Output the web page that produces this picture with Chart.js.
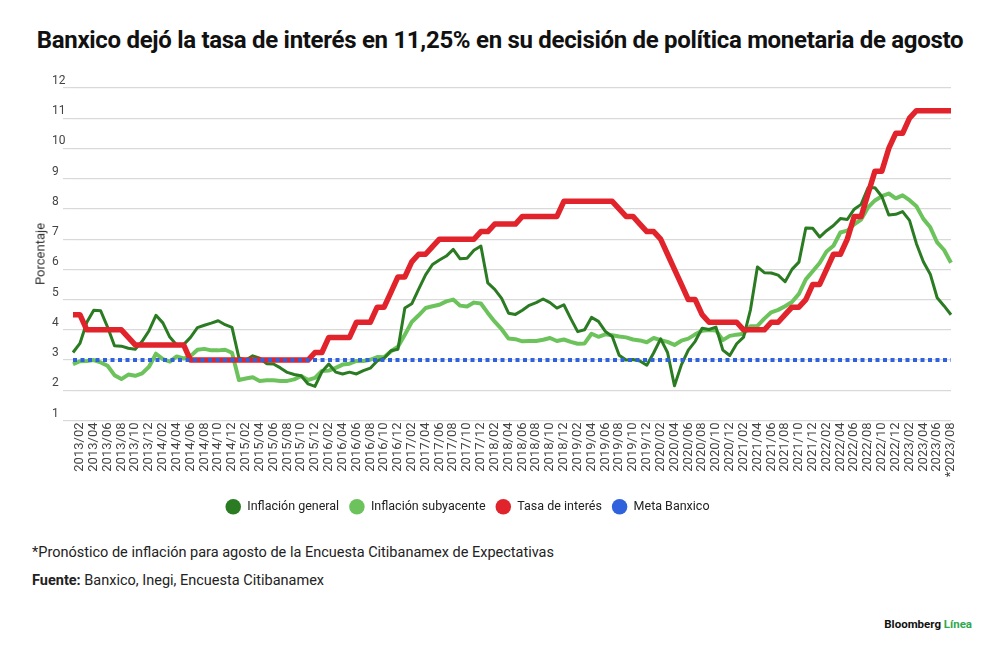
<!DOCTYPE html>
<html lang="es">
<head>
<meta charset="utf-8">
<title>Banxico - tasa de interés e inflación</title>
<script src="https://cdn.jsdelivr.net/npm/chart.js@4.4.1/dist/chart.umd.min.js"></script>
<style>
  html, body { margin: 0; padding: 0; background: #fff; }
  body { width: 1000px; height: 652px; position: relative; overflow: hidden; font-family: Roboto, "Noto Sans", sans-serif; color: #222; }
  #title { position: absolute; left: 0; top: 25px; width: 1000px; text-align: center; font-weight: 700; font-size: 24px; letter-spacing: -0.3px; color: #111; line-height: 30px; }
  #chartBox { position: absolute; left: 0; top: 0; width: 1000px; height: 523px; }
  #yTitle { position: absolute; left: 40px; top: 254px; transform: translate(-50%, -50%) rotate(-90deg); font-size: 13px; color: #333; white-space: nowrap; }
  .note { position: absolute; left: 32px; font-size: 14.5px; color: #222; white-space: nowrap; }
  #note1 { top: 544px; }
  #note2 { top: 572px; }
  #brand { position: absolute; right: 28px; top: 617px; font-size: 11.5px; font-weight: 700; color: #111; }
  #brand span { color: #2fa84f; }
</style>
</head>
<body>
<div id="title">Banxico dejó la tasa de interés en 11,25% en su decisión de política monetaria de agosto</div>
<div id="chartBox"><canvas id="rateChart"></canvas></div>
<div id="yTitle">Porcentaje</div>
<div class="note" id="note1">*Pronóstico de inflación para agosto de la Encuesta Citibanamex de Expectativas</div>
<div class="note" id="note2"><b>Fuente:</b> Banxico, Inegi, Encuesta Citibanamex</div>
<div id="brand">Bloomberg <span>Línea</span></div>

<script>
// meses 2013/01 - 2023/08 (el último es pronóstico)
const categories = [
  "2013/01", "2013/02", "2013/03", "2013/04", "2013/05", "2013/06", "2013/07", "2013/08", "2013/09", "2013/10", "2013/11", "2013/12",
  "2014/01", "2014/02", "2014/03", "2014/04", "2014/05", "2014/06", "2014/07", "2014/08", "2014/09", "2014/10", "2014/11", "2014/12",
  "2015/01", "2015/02", "2015/03", "2015/04", "2015/05", "2015/06", "2015/07", "2015/08", "2015/09", "2015/10", "2015/11", "2015/12",
  "2016/01", "2016/02", "2016/03", "2016/04", "2016/05", "2016/06", "2016/07", "2016/08", "2016/09", "2016/10", "2016/11", "2016/12",
  "2017/01", "2017/02", "2017/03", "2017/04", "2017/05", "2017/06", "2017/07", "2017/08", "2017/09", "2017/10", "2017/11", "2017/12",
  "2018/01", "2018/02", "2018/03", "2018/04", "2018/05", "2018/06", "2018/07", "2018/08", "2018/09", "2018/10", "2018/11", "2018/12",
  "2019/01", "2019/02", "2019/03", "2019/04", "2019/05", "2019/06", "2019/07", "2019/08", "2019/09", "2019/10", "2019/11", "2019/12",
  "2020/01", "2020/02", "2020/03", "2020/04", "2020/05", "2020/06", "2020/07", "2020/08", "2020/09", "2020/10", "2020/11", "2020/12",
  "2021/01", "2021/02", "2021/03", "2021/04", "2021/05", "2021/06", "2021/07", "2021/08", "2021/09", "2021/10", "2021/11", "2021/12",
  "2022/01", "2022/02", "2022/03", "2022/04", "2022/05", "2022/06", "2022/07", "2022/08", "2022/09", "2022/10", "2022/11", "2022/12",
  "2023/01", "2023/02", "2023/03", "2023/04", "2023/05", "2023/06", "2023/07", "*2023/08"
];

const inflacionGeneral = [
  3.25, 3.55, 4.25, 4.65, 4.63, 4.09, 3.47, 3.46, 3.39, 3.36, 3.62, 3.97,
  4.48, 4.23, 3.76, 3.50, 3.51, 3.75, 4.07, 4.15, 4.22, 4.30, 4.17, 4.08,
  3.07, 3.00, 3.14, 3.06, 2.88, 2.87, 2.74, 2.59, 2.52, 2.48, 2.21, 2.13,
  2.61, 2.87, 2.60, 2.54, 2.60, 2.54, 2.65, 2.73, 2.97, 3.06, 3.31, 3.36,
  4.72, 4.86, 5.35, 5.82, 6.16, 6.31, 6.44, 6.66, 6.35, 6.37, 6.63, 6.77,
  5.55, 5.34, 5.04, 4.55, 4.51, 4.65, 4.81, 4.90, 5.02, 4.90, 4.72, 4.83,
  4.37, 3.94, 4.00, 4.41, 4.28, 3.95, 3.78, 3.16, 3.00, 3.02, 2.97, 2.83,
  3.24, 3.70, 3.25, 2.15, 2.84, 3.33, 3.62, 4.05, 4.01, 4.09, 3.33, 3.15,
  3.54, 3.76, 4.67, 6.08, 5.89, 5.88, 5.81, 5.59, 6.00, 6.24, 7.37, 7.36,
  7.07, 7.28, 7.45, 7.68, 7.65, 7.99, 8.15, 8.70, 8.70, 8.41, 7.80, 7.82,
  7.91, 7.62, 6.85, 6.25, 5.84, 5.06, 4.79, 4.50
];

const inflacionSubyacente = [
  2.86, 2.96, 2.97, 3.00, 2.92, 2.81, 2.50, 2.37, 2.52, 2.48, 2.56, 2.78,
  3.21, 3.03, 2.95, 3.12, 3.05, 3.13, 3.34, 3.37, 3.32, 3.32, 3.34, 3.24,
  2.34, 2.39, 2.43, 2.31, 2.33, 2.33, 2.31, 2.31, 2.36, 2.47, 2.34, 2.41,
  2.64, 2.65, 2.74, 2.85, 2.88, 2.97, 2.97, 3.01, 3.10, 3.09, 3.29, 3.44,
  3.84, 4.26, 4.48, 4.72, 4.78, 4.83, 4.94, 5.00, 4.80, 4.77, 4.90, 4.87,
  4.56, 4.27, 4.02, 3.71, 3.69, 3.62, 3.63, 3.63, 3.67, 3.73, 3.63, 3.68,
  3.60, 3.54, 3.55, 3.87, 3.77, 3.85, 3.82, 3.78, 3.75, 3.68, 3.65, 3.59,
  3.73, 3.66, 3.60, 3.50, 3.64, 3.71, 3.85, 3.97, 3.99, 3.98, 3.66, 3.80,
  3.84, 3.87, 4.12, 4.13, 4.37, 4.58, 4.66, 4.78, 4.92, 5.19, 5.67, 5.94,
  6.21, 6.59, 6.78, 7.22, 7.28, 7.49, 7.65, 8.05, 8.28, 8.42, 8.51, 8.35,
  8.45, 8.29, 8.09, 7.67, 7.39, 6.89, 6.64, 6.22
];

const tasaInteres = [
  4.50, 4.50, 4.00, 4.00, 4.00, 4.00, 4.00, 4.00, 3.75, 3.50, 3.50, 3.50,
  3.50, 3.50, 3.50, 3.50, 3.50, 3.00, 3.00, 3.00, 3.00, 3.00, 3.00, 3.00,
  3.00, 3.00, 3.00, 3.00, 3.00, 3.00, 3.00, 3.00, 3.00, 3.00, 3.00, 3.25,
  3.25, 3.75, 3.75, 3.75, 3.75, 4.25, 4.25, 4.25, 4.75, 4.75, 5.25, 5.75,
  5.75, 6.25, 6.50, 6.50, 6.75, 7.00, 7.00, 7.00, 7.00, 7.00, 7.00, 7.25,
  7.25, 7.50, 7.50, 7.50, 7.50, 7.75, 7.75, 7.75, 7.75, 7.75, 7.75, 8.25,
  8.25, 8.25, 8.25, 8.25, 8.25, 8.25, 8.25, 8.00, 7.75, 7.75, 7.50, 7.25,
  7.25, 7.00, 6.50, 6.00, 5.50, 5.00, 5.00, 4.50, 4.25, 4.25, 4.25, 4.25,
  4.25, 4.00, 4.00, 4.00, 4.00, 4.25, 4.25, 4.50, 4.75, 4.75, 5.00, 5.50,
  5.50, 6.00, 6.50, 6.50, 7.00, 7.75, 7.75, 8.50, 9.25, 9.25, 10.00, 10.50,
  10.50, 11.00, 11.25, 11.25, 11.25, 11.25, 11.25, 11.25
];

// la meta de Banxico es 3% en todo el periodo
const metaObjetivo = 3;
const metaBanxico = new Array(categories.length).fill(metaObjetivo);

const yTicks = [1, 2, 3, 4, 5, 6, 7, 8, 9, 10, 11, 12];

const colorGeneral = "#2a7b22";
const colorSubyacente = "#6cc35c";
const colorTasa = "#e1232b";
const colorMeta = "#2f62dc";

// la leyenda del original no esta centrada en la pagina, va un poco a la izquierda
const legendShift = {
  id: "legendShift",
  afterLayout(chart) {
    chart.legend.left -= 34;
    chart.legend.right -= 34;
  }
};

const ctx = document.getElementById("rateChart").getContext("2d");

new Chart(ctx, {
  type: "line",
  data: {
    labels: categories,
    datasets: [
      {
        label: "Inflación general",
        data: inflacionGeneral,
        borderColor: colorGeneral,
        backgroundColor: colorGeneral,
        borderWidth: 3,
        order: 3
      },
      {
        label: "Inflación subyacente",
        data: inflacionSubyacente,
        borderColor: colorSubyacente,
        backgroundColor: colorSubyacente,
        borderWidth: 4,
        order: 4
      },
      {
        label: "Tasa de interés",
        data: tasaInteres,
        borderColor: colorTasa,
        backgroundColor: colorTasa,
        borderWidth: 5.5,
        order: 2
      },
      {
        label: "Meta Banxico",
        data: metaBanxico,
        borderColor: colorMeta,
        backgroundColor: colorMeta,
        borderWidth: 4,
        borderDash: [4, 3.5],
        order: 1
      }
    ]
  },
  options: {
    responsive: true,
    maintainAspectRatio: false,
    animation: false,
    layout: {
      padding: { left: 52, right: 49, top: 88, bottom: 0 }
    },
    elements: {
      point: { radius: 0, hoverRadius: 0 },
      line: { tension: 0, borderJoinStyle: "round", borderCapStyle: "butt" }
    },
    plugins: {
      legend: {
        position: "bottom",
        labels: {
          usePointStyle: true,
          pointStyle: "circle",
          pointStyleWidth: 15.5,
          boxHeight: 11,
          padding: 10,
          color: "#222",
          font: { family: "Roboto", size: 12.5 },
          sort: (a, b) => a.datasetIndex - b.datasetIndex,
          generateLabels: function(chart) {
            const items = Chart.defaults.plugins.legend.labels.generateLabels(chart);
            items.forEach(item => {
              item.lineWidth = 0;
              item.lineDash = [];
              item.fillStyle = item.strokeStyle;
            });
            return items;
          }
        }
      },
      tooltip: { enabled: false }
    },
    scales: {
      x: {
        grid: { display: false, drawTicks: false },
        border: { display: false },
        ticks: {
          autoSkip: false,
          minRotation: 90,
          maxRotation: 90,
          padding: 2,
          color: "#444",
          font: { family: "Roboto", size: 13 },
          callback: function(value, index) {
            return index % 2 === 1 ? this.getLabelForValue(value) : null;
          }
        },
        afterFit: function(scale) {
          scale.height = 70;
        }
      },
      y: {
        min: yTicks[0],
        max: yTicks[yTicks.length - 1],
        grid: { color: "#d9d9d9", lineWidth: 1.2, drawTicks: true, tickLength: 10 },
        border: { display: false },
        ticks: {
          stepSize: 1,
          crossAlign: "far",
          padding: 0,
          labelOffset: -7,
          color: "#444",
          font: { family: "Roboto", size: 12 }
        },
        afterFit: function(scale) {
          scale.width = 21;
          scale.paddingTop = 0;
          scale.paddingBottom = 0;
        }
      }
    }
  },
  plugins: [legendShift]
});
</script>
</body>
</html>
